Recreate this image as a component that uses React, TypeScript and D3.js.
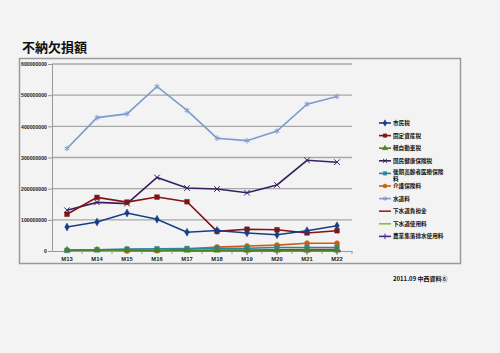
import { useEffect, useRef } from 'react';
import * as d3 from 'd3';

// 年度
const years = ['M13', 'M14', 'M15', 'M16', 'M17', 'M18', 'M19', 'M20', 'M21', 'M22'];

// 各科目の不納欠損額 (百万円単位で読み取り)
const shiminzei = [77, 93, 122, 102, 60, 66, 58, 52, 65, 81];
const koteishisanzei = [118, 172, 157, 173, 158, 63, 70, 68, 58, 65];
const keijidoshazei = [3, 3, 3, 2, 2, 2, 2, 2, 2, 2];
const kokuhozei = [131, 156, 152, 236, 202, 199, 187, 212, 291, 285];
const kokiKorei = [2, 4, 6, 7, 8, 9, 9, 11, 11, 11];
const kaigo = [null, null, 0, 1, 6, 13, 16, 19, 25, 25];
const suidoryo = [329, 428, 440, 528, 451, 362, 354, 385, 471, 496];
const gesuiFutan = [null, null, null, null, 1, 2, 2, 4, 5, 5];
const gesuiShiyo = [1, 1, 1, 1, 1, 1, 1, 1, 1, 1];
const nogyoShuraku = [null, null, null, null, null, null, 0, 1, 1, 1];

const yTicks = [0, 100000000, 200000000, 300000000, 400000000, 500000000, 600000000];

const series = [
  { name: '市民税', values: shiminzei, color: '#173f86', marker: 'diamond' },
  { name: '固定資産税', values: koteishisanzei, color: '#7f1416', marker: 'square' },
  { name: '軽自動車税', values: keijidoshazei, color: '#4f7f22', marker: 'triangle' },
  { name: '国民健康保険税', values: kokuhozei, color: '#36205e', marker: 'times' },
  { name: '後期高齢者医療保険料', values: kokiKorei, color: '#2e84a0', marker: 'square' },
  { name: '介護保険料', values: kaigo, color: '#c8600f', marker: 'circle' },
  { name: '水道料', values: suidoryo, color: '#7b9bd0', marker: 'asterisk' },
  { name: '下水道負担金', values: gesuiFutan, color: '#c0141a', marker: 'none' },
  { name: '下水道使用料', values: gesuiShiyo, color: '#8dbb3c', marker: 'none' },
  { name: '農業集落排水使用料', values: nogyoShuraku, color: '#4a2a88', marker: 'plus' },
];

const symbolTypes = {
  diamond: d3.symbolDiamond,
  square: d3.symbolSquare,
  triangle: d3.symbolTriangle,
  circle: d3.symbolCircle,
  times: d3.symbolTimes,
  asterisk: d3.symbolAsterisk,
  plus: d3.symbolPlus,
};
const strokeSymbols = ['times', 'asterisk', 'plus'];

const App = () => {
  const svgRef = useRef(null);

  useEffect(() => {
    const width = 500;
    const height = 353;
    const svg = d3.select(svgRef.current);
    svg.selectAll('*').remove();

    svg.append('rect').attr('width', width).attr('height', height).attr('fill', '#f3f3f3');

    // title
    svg
      .append('text')
      .attr('x', 22)
      .attr('y', 52)
      .attr('font-family', '"Noto Sans CJK JP", sans-serif')
      .attr('font-weight', 'bold')
      .attr('font-size', 13)
      .attr('fill', '#111')
      .text('不納欠損額');

    // chart frame
    svg
      .append('rect')
      .attr('x', 19.5)
      .attr('y', 58.5)
      .attr('width', 441)
      .attr('height', 205)
      .attr('fill', '#f3f3f3')
      .attr('stroke', '#9a9a9a')
      .attr('stroke-width', 1.5);

    const x = d3.scaleBand().domain(years).range([52, 352]);
    const cx = (d) => x(d) + x.bandwidth() / 2;
    const y = d3.scaleLinear().domain([0, 600000000]).range([251, 64]);

    // gridlines
    svg
      .append('g')
      .selectAll('line')
      .data(yTicks.slice(1))
      .join('line')
      .attr('x1', 52)
      .attr('x2', 352)
      .attr('y1', (d) => y(d))
      .attr('y2', (d) => y(d))
      .attr('stroke', '#a8a8a8')
      .attr('stroke-width', 1.4);

    // y axis
    svg
      .append('g')
      .attr('transform', 'translate(52,0)')
      .call(d3.axisLeft(y).tickValues(yTicks).tickSize(4).tickFormat(d3.format('d')))
      .call((g) => g.selectAll('line, path').attr('stroke', '#999'))
      .call((g) =>
        g
          .selectAll('text')
          .attr('font-family', '"Liberation Sans", Arial, sans-serif')
          .attr('font-size', 5.2)
          .attr('font-weight', 'bold')
          .attr('fill', '#222')
          .attr('x', -5)
      );

    // x axis
    svg
      .append('g')
      .attr('transform', 'translate(0,251)')
      .call(d3.axisBottom(x).tickSize(0))
      .call((g) => g.select('.domain').attr('stroke', '#999').attr('stroke-width', 1.2))
      .call((g) =>
        g
          .selectAll('text')
          .attr('font-family', '"Liberation Sans", Arial, sans-serif')
          .attr('font-size', 5.8)
          .attr('font-weight', 'bold')
          .attr('fill', '#222')
          .attr('dy', '1.2em')
      );
    svg
      .append('g')
      .selectAll('line')
      .data(years)
      .join('line')
      .attr('x1', (d) => x(d) + x.bandwidth())
      .attr('x2', (d) => x(d) + x.bandwidth())
      .attr('y1', 251)
      .attr('y2', 254)
      .attr('stroke', '#999');

    const drawMarker = (g, s, px, py, size) => {
      if (s.marker === 'none') return;
      const stroke = strokeSymbols.includes(s.marker);
      g.append('path')
        .attr('transform', `translate(${px},${py})`)
        .attr('d', d3.symbol().type(symbolTypes[s.marker]).size(size)())
        .attr('fill', stroke ? 'none' : s.color)
        .attr('stroke', s.color)
        .attr('stroke-width', stroke ? 1 : 0.5);
    };

    // lines (drawn in reverse so 市民税 ends on top)
    const line = d3
      .line()
      .defined((d) => d != null)
      .x((d, i) => cx(years[i]))
      .y((d) => y(d * 1000000));

    const plot = svg.append('g');
    [...series].reverse().forEach((s) => {
      const g = plot.append('g');
      g.append('path')
        .attr('d', line(s.values))
        .attr('fill', 'none')
        .attr('stroke', s.color)
        .attr('stroke-width', 1.6);
      const size = { square: 22, diamond: 18, triangle: 18, circle: 20 }[s.marker] || 22;
      s.values.forEach((v, i) => {
        if (v == null) return;
        drawMarker(g, s, cx(years[i]), y(v * 1000000), size);
      });
    });

    // legend
    const legend = svg
      .append('g')
      .selectAll('g')
      .data(series)
      .join('g')
      .attr('transform', (d, i) => `translate(379,${123 + i * 12.6})`);
    legend
      .append('line')
      .attr('x1', 0)
      .attr('x2', 12)
      .attr('stroke', (d) => d.color)
      .attr('stroke-width', 1.6);
    legend.each(function (d) {
      drawMarker(d3.select(this), d, 6, 0, 12);
    });
    legend.each(function (d) {
      const g = d3.select(this);
      const lines = d.name.length > 9 ? [d.name.slice(0, 9), d.name.slice(9)] : [d.name];
      lines.forEach((txt, k) =>
        g
          .append('text')
          .attr('x', 14)
          .attr('y', lines.length > 1 ? k * 6.6 - 1 : 0)
          .attr('dy', '0.35em')
          .attr('font-family', '"Noto Sans CJK JP", sans-serif')
          .attr('font-weight', 'bold')
          .attr('font-size', 5.6)
          .attr('fill', '#111')
          .text(txt)
      );
    });

    // footer
    svg
      .append('text')
      .attr('x', 393)
      .attr('y', 281)
      .attr('font-family', '"Noto Sans CJK JP", sans-serif')
      .attr('font-weight', 'bold')
      .attr('font-size', 6)
      .attr('fill', '#111')
      .text('2011.09 中西資料⑥');
  }, []);

  return (
    <svg
      ref={svgRef}
      width={500}
      height={353}
      style={{ position: 'absolute', left: 0, top: 0, display: 'block' }}
    ></svg>
  );
};

export default App;
